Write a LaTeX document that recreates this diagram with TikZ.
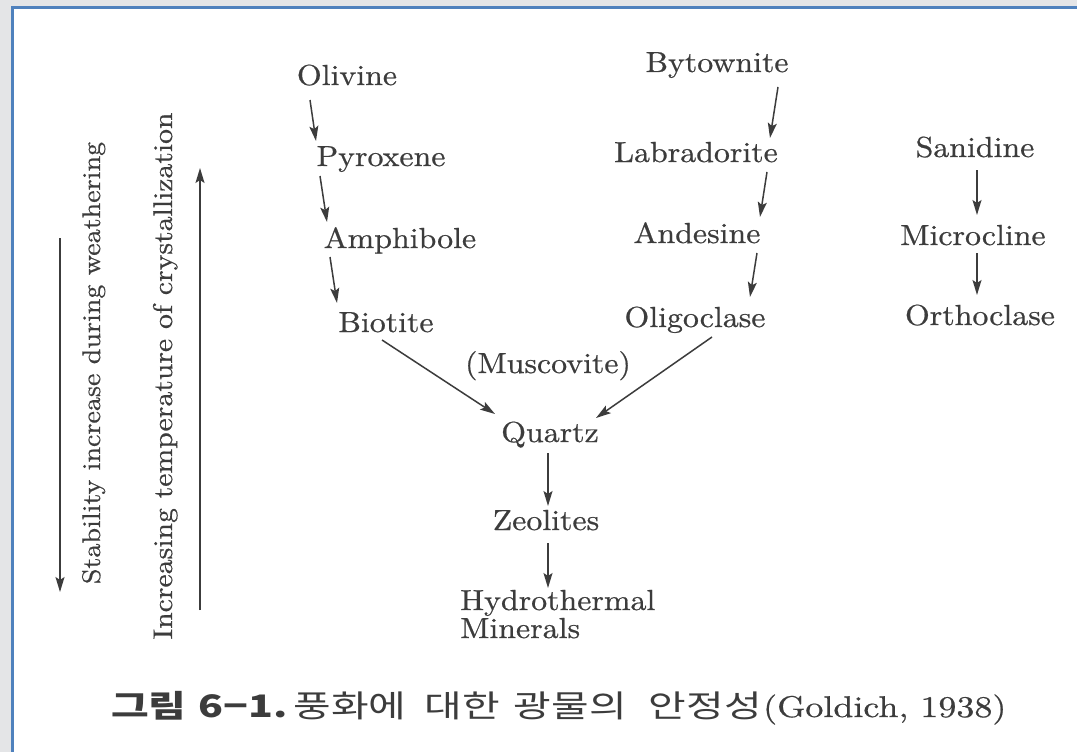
\documentclass[tikz,border=0pt]{standalone}
\usepackage{fontspec}
\newfontfamily\mfont{lmroman10-regular.otf}[FakeStretch=1.1, FakeBold=0.6]
\newfontfamily\srcfont{lmroman10-regular.otf}[FakeStretch=1.2, FakeBold=0.6]
\newfontfamily\korfont{Noto Sans CJK KR}[FakeStretch=1.32]
\usetikzlibrary{arrows.meta, positioning, calc}
\definecolor{inkgray}{HTML}{3C3C3C}
\definecolor{framebg}{HTML}{E4E5E7}
\definecolor{frameblue}{HTML}{4F81BD}
\tikzset{
  mineral/.style={anchor=base, inner sep=0pt, text=inkgray, font=\mfont\fontsize{29}{30}\selectfont},
  scale label/.style={mineral, rotate=90},
  flow/.style={draw=inkgray, line width=1.5pt, -{Stealth[length=15pt,width=9pt,inset=3pt]}},
}

\begin{document}
\begin{tikzpicture}[x=1pt, y=-1pt]
\useasboundingbox (0,0) rectangle (1077,752);
% frame
\fill[framebg] (0,0) rectangle (1077,752);
\fill[white] (12,7) rectangle (1077,752);
\draw[frameblue, line width=3pt] (12.5,760) -- (12.5,7.5) -- (1090,7.5);

% ferromagnesian series
\node[mineral] (olivine) at (347,85) {Olivine};
\node[mineral] (pyroxene) at (381,166) {Pyroxene};
\node[mineral] (amphibole) at (400,248) {Amphibole};
\node[mineral] (biotite) at (386,332) {Biotite};

% plagioclase series
\node[mineral] (bytownite) at (717,72) {Bytownite};
\node[mineral] (labradorite) at (696,162) {Labradorite};
\node[mineral] (andesine) at (697,243) {Andesine};
\node[mineral] (oligoclase) at (695,327) {Oligoclase};

% K-feldspar series
\node[mineral] (sanidine) at (975,157) {Sanidine};
\node[mineral] (microcline) at (973,245) {Microcline};
\node[mineral] (orthoclase) at (980,325) {Orthoclase};

\node[mineral] (muscovite) at (548,373) {(Muscovite)};
\node[mineral] (quartz) at (550,442) {Quartz};
\node[mineral] (zeolites) at (546,530) {Zeolites};
\node[mineral, anchor=base west] (hydro) at (460,610) {Hydrothermal};
\node[mineral, anchor=base west] (minerals) at ([yshift=-28pt]hydro.base west) {Minerals};

\draw[flow] ([shift={(-37,15)}]olivine.base) -- ([shift={(-65,-25)}]pyroxene.base);
\draw[flow] ([shift={(-61,10)}]pyroxene.base) -- ([shift={(-73,-26)}]amphibole.base);
\draw[flow] ([shift={(-70,9)}]amphibole.base) -- ([shift={(-49,-29)}]biotite.base);
\draw[flow] ([shift={(-4,8)}]biotite.base) -- ([shift={(-55,-28)}]quartz.base);

\draw[flow] ([shift={(61,15)}]bytownite.base) -- ([shift={(74,-24)}]labradorite.base);
\draw[flow] ([shift={(71,10)}]labradorite.base) -- ([shift={(63,-26)}]andesine.base);
\draw[flow] ([shift={(60,10)}]andesine.base) -- ([shift={(55,-30)}]oligoclase.base);
\draw[flow] ([shift={(17,10)}]oligoclase.base) -- ([shift={(46,-24)}]quartz.base);

\draw[flow] ([shift={(2,13)}]sanidine.base) -- ([shift={(4,-30)}]microcline.base);
\draw[flow] ([shift={(4,8)}]microcline.base) -- ([shift={(-3,-30)}]orthoclase.base);

\draw[flow] ([shift={(-2,11)}]quartz.base) -- ([shift={(2,-24)}]zeolites.base);
\draw[flow] ([shift={(2,13)}]zeolites.base) -- ([shift={(88,-22)}]hydro.base west);

% side scales
\coordinate (stabtop) at (60,238);
\coordinate (stabend) at (60,592);
\draw[flow] (stabtop) -- (stabend);
\node[scale label, font=\mfont\fontsize{25.5}{28}\selectfont] (stability) at (100,363) {Stability increase during weathering};
\coordinate (tempbot) at (200,610);
\coordinate (temptop) at (200,168);
\draw[flow] (tempbot) -- (temptop);
\node[scale label, font=\mfont\fontsize{27}{28}\selectfont] (temperature) at (172,376) {Increasing temperature of crystallization};

% caption
\node[anchor=base west, inner sep=0pt, text=inkgray, font=\korfont\fontsize{31}{31}\selectfont] (caption) at (111,717)
  {{\bfseries 그림\hspace{12pt}6−1.}\hspace{6pt}풍화에\hspace{18pt}대한\hspace{14pt}광물의\hspace{22pt}안정성};
\node[anchor=base west, inner sep=0pt, text=inkgray, font=\srcfont\fontsize{30}{30}\selectfont] (source) at ([xshift=1pt]caption.base east) {(Goldich, 1938)};
\end{tikzpicture}
\end{document}
